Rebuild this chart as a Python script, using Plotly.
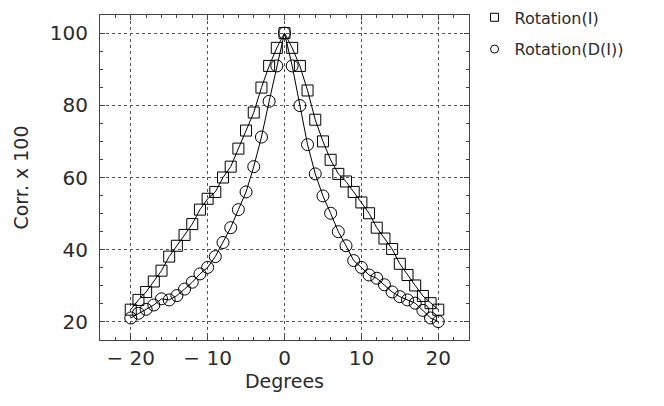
import plotly.graph_objects as go

degrees = list(range(-20, 21))

rotation_i = [23.4, 26.1, 28.3, 31.2, 34.2, 38.1, 41.1, 44.1, 47.1, 51.1,
              54.1, 56.0, 60.0, 63.0, 68.0, 73.0, 78.0, 84.9, 90.9, 95.9,
              100.0,
              95.9, 90.9, 84.1, 76.0, 70.0, 64.9, 61.0, 58.9, 56.0, 53.1,
              50.1, 46.1, 43.1, 40.2, 36.1, 33.0, 30.1, 27.2, 25.2, 23.4]

rotation_di = [21.1, 22.4, 23.5, 24.7, 26.4, 26.1, 27.3, 29.1, 31.0, 33.3,
               35.1, 38.1, 42.0, 46.1, 51.1, 56.0, 63.0, 71.2, 81.1, 90.9,
               100.0,
               90.9, 79.9, 69.1, 61.0, 54.9, 50.1, 45.0, 41.1, 37.0, 35.1,
               33.0, 32.1, 30.3, 28.3, 27.0, 26.1, 25.2, 23.2, 21.1, 20.1]

series_names = ["Rotation(I)", "Rotation(D(I))"]
x_ticks = [-20, -10, 0, 10, 20]
y_ticks = [20, 40, 60, 80, 100]

FONT = "DejaVu Sans"
INK = "#2a2a2a"
AX = "#444444"

fig = go.Figure()
for name, vals, sym, sz in [(series_names[0], rotation_i, "square-open", 11),
                            (series_names[1], rotation_di, "circle-open", 12)]:
    fig.add_trace(go.Scatter(
        x=degrees, y=vals, mode="lines+markers", name=name, showlegend=False,
        line=dict(color="black", width=1),
        marker=dict(symbol=sym, size=sz, color="black", line=dict(width=1, color="black")),
    ))
# legend-only entries (marker only, smaller like the reference key)
for i, (name, sym) in enumerate([(series_names[0], "square-open"), (series_names[1], "circle-open")]):
    fig.add_trace(go.Scatter(
        x=[None], y=[None], mode="markers", name=name, showlegend=True,
        legendgroup=f"g{i}",
        marker=dict(symbol=sym, size=8, color="black", line=dict(width=1, color="black")),
    ))

axis_common = dict(
    showline=True, linecolor=AX, linewidth=1, mirror="allticks",
    ticks="inside", ticklen=5, tickcolor=AX, tickwidth=1,
    showgrid=True, gridcolor="#555555", griddash="dot", gridwidth=1,
    zeroline=False,
    tickfont=dict(family=FONT, size=20, color=INK),
)

fig.update_xaxes(
    range=[-24, 24], tickvals=x_ticks, ticktext=[str(v).replace("-", "\u2212 ") for v in x_ticks],
    minor=dict(dtick=2, ticks="inside", ticklen=3, tickcolor=AX, showgrid=False),
    title=dict(text="Degrees", font=dict(family=FONT, size=19, color=INK), standoff=5),
    **axis_common,
)
fig.update_yaxes(
    range=[15, 105], tickvals=y_ticks, ticktext=[str(v) for v in y_ticks],
    minor=dict(dtick=5, ticks="inside", ticklen=3, tickcolor=AX, showgrid=False),
    ticklabelstandoff=7,
    title=dict(text="Corr. x 100", font=dict(family=FONT, size=19, color=INK), standoff=16),
    **axis_common,
)

fig.update_layout(
    width=664, height=406,
    margin=dict(l=92, r=203, t=7, b=74, autoexpand=False),
    paper_bgcolor="white", plot_bgcolor="white",
    showlegend=True,
    legend=dict(x=1.015, y=1.045, xanchor="left", yanchor="top",
                font=dict(family=FONT, size=16, color=INK),
                tracegroupgap=8, itemwidth=30, bgcolor="rgba(0,0,0,0)"),
)

fig.write_html("out.html")
